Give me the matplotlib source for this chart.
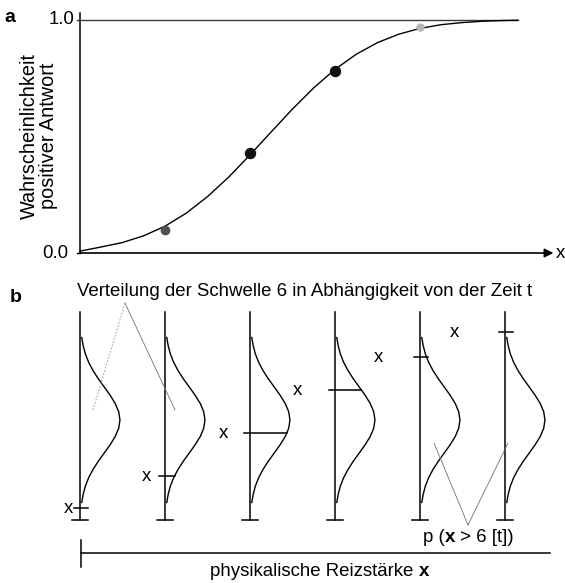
import numpy as np
import matplotlib
matplotlib.use("Agg")
import matplotlib.pyplot as plt

plt.rcParams['font.family'] = ['Liberation Sans', 'DejaVu Sans']

# ---------------- data ----------------
# panel a: psychometric function
stim_levels = [0.0, 0.25, 0.5, 0.75, 1.0, 1.25, 1.5, 1.75, 2.0, 2.25, 2.5,
               2.75, 3.0, 3.25, 3.5, 3.75, 4.0, 4.25, 4.5, 4.75, 5.0, 5.15]
response_prob = [0.008, 0.026, 0.045, 0.074, 0.115, 0.171, 0.242, 0.326, 0.421,
                 0.520, 0.618, 0.709, 0.788, 0.853, 0.903, 0.939, 0.964, 0.980,
                 0.989, 0.995, 0.998, 0.999]
point_x = [1, 2, 3, 4]
point_p = [0.10, 0.43, 0.78, 0.97]
point_colors = ['#505050', '#111111', '#111111', '#b5b5b5']
point_sizes = [6.0, 7.2, 7.2, 5.0]

# panel b: threshold distribution per time step
columns = [0, 1, 2, 3, 4, 5]
theta_grid = [-2.5, -2.25, -2.0, -1.75, -1.5, -1.25, -1.0, -0.75, -0.5, -0.25, 0.0,
              0.25, 0.5, 0.75, 1.0, 1.25, 1.5, 1.75, 2.0, 2.25, 2.5]
threshold_density = [0.044, 0.080, 0.135, 0.216, 0.325, 0.458, 0.607, 0.755, 0.882, 0.969, 1.0,
                     0.969, 0.882, 0.755, 0.607, 0.458, 0.325, 0.216, 0.135, 0.080, 0.044]
stimulus_theta = [-2.67, -1.70, -0.39, 0.91, 1.91, 2.67]
label_offsets = [0.14, 0.22, 0.31, 0.44, 0.49, 0.59]

# ---------------- figure ----------------
W, H = 565, 583
fig = plt.figure(figsize=(W / 100, H / 100), dpi=100)
FS = 13.4

def ftext(x, y, s, **kw):
    return fig.text(x / W, 1 - y / H, s, **kw)

# x mapping: px = 80 + 85*u
xlim = (-80 / 85, (W - 80) / 85)

ax_a = fig.add_axes([0, 0, 1, 1])
ax_a.set_xlim(*xlim)
ax_a.set_ylim((253 - H) / 233, 253 / 233)
ax_a.axis('off')

ax_b = fig.add_axes([0, 0, 1, 1])
ax_b.patch.set_alpha(0)
ax_b.set_xlim(*xlim)
ax_b.set_ylim((420 - H) / 33, 420 / 33)
ax_b.axis('off')

# ---- panel a ----
ax_a.plot([0, 0], [0, 1.03], color='black', lw=1.1)
ax_a.plot([-0.04, 5.15], [1, 1], color='#3a3a3a', lw=1.0)
ax_a.plot([-0.04, 0], [0, 0], color='black', lw=1.0)
ax_a.annotate('', xy=(5.57, 0), xytext=(0, 0),
              arrowprops=dict(arrowstyle='-|>', lw=1.2, color='black',
                              mutation_scale=13, shrinkA=0, shrinkB=0))
ax_a.plot(stim_levels, response_prob, color='black', lw=1.0)
for x, p, c, s in zip(point_x, point_p, point_colors, point_sizes):
    ax_a.plot([x], [p], 'o', color=c, markersize=s, markeredgecolor=c)

ftext(74, 20, '1.0', fontsize=FS, ha='right', va='center')
ftext(68, 253, '0.0', fontsize=FS, ha='right', va='center')
ftext(560, 254, 'x', fontsize=FS, ha='center', va='center')
ftext(39, 136, 'Wahrscheinlichkeit\npositiver Antwort', fontsize=14.3,
      rotation=90, ha='center', va='center', linespacing=1.05, multialignment='center')
ftext(10, 17, 'a', fontsize=14, fontweight='bold', ha='center', va='center')

# ---- panel b ----
amp = 0.47
for c, th, off in zip(columns, stimulus_theta, label_offsets):
    ax_b.plot([c, c], [-3.03, 3.27], color='black', lw=1.1)
    ax_b.plot([c - 0.09, c + 0.09], [-3.03, -3.03], color='black', lw=1.1)
    xs = [c + amp * d for d in threshold_density]
    ax_b.plot(xs, theta_grid, color='black', lw=1.0)
    ext = max(amp * np.interp(th, theta_grid, threshold_density), 0.1)
    ax_b.plot([c - 0.07, c + ext], [th, th], color='black', lw=1.1)
    ax_b.annotate('x', xy=(c - off, th), xytext=(0, -3.4), textcoords='offset points',
                  fontsize=FS, ha='center', va='baseline')

# annotation lines
ax_b.plot([0.529, 0.153], [3.545, 0.303], color='#a8a8a8', lw=0.8, ls=(0, (1.5, 1.5)))
ax_b.plot([0.529, 1.118], [3.545, 0.303], color='#707070', lw=0.6)
ax_b.plot([4.565, 4.165], [-3.18, -0.70], color='#707070', lw=0.6)
ax_b.plot([4.565, 5.035], [-3.18, -0.70], color='#707070', lw=0.6)

# bottom axis
ax_b.plot([0.01, 5.53], [-4.03, -4.03], color='black', lw=1.1)
ax_b.plot([0.01, 0.01], [-3.64, -4.45], color='black', lw=1.1)

ftext(16, 297, 'b', fontsize=14, fontweight='bold', ha='center', va='center')
ftext(77, 292, 'Verteilung der Schwelle 6 in Abhängigkeit von der Zeit t',
      fontsize=FS, ha='left', va='center')

t1 = ftext(423, 542, 'p (', fontsize=FS, ha='left', va='baseline')
a1 = ax_b.annotate('x', xy=(1, 0), xycoords=t1, va='bottom', ha='left',
                   fontsize=FS, fontweight='bold')
ax_b.annotate(' > 6 [t])', xy=(1, 0), xycoords=a1, va='bottom', ha='left', fontsize=FS)

t3 = ftext(210, 576, 'physikalische Reizstärke ', fontsize=FS, ha='left', va='baseline')
ax_b.annotate('x', xy=(1, 0), xycoords=t3, va='bottom', ha='left',
              fontsize=FS, fontweight='bold')

fig.savefig('out.png', dpi=100)
